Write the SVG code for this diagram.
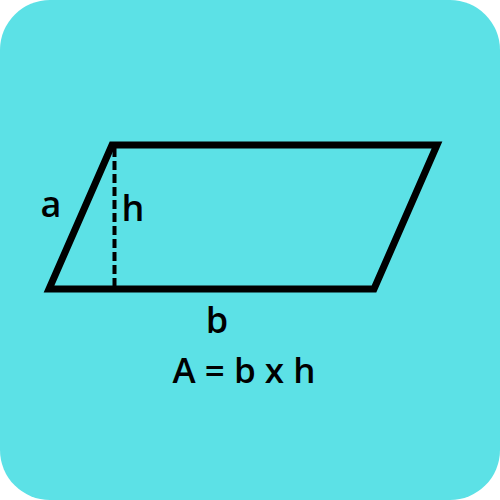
<svg xmlns="http://www.w3.org/2000/svg" width="500" height="500" viewBox="0 0 500 500">
<style>
.lbl{font-family:"Open Sans","Liberation Sans",sans-serif;font-weight:600;fill:#000;}
</style>
<rect x="0" y="0" width="500" height="500" rx="50" ry="50" fill="#5CE1E6"/>
<g id="shape">
<polygon points="112,145 437,145 374,289 49,289" fill="none" stroke="#000" stroke-width="7" stroke-linejoin="miter"/>
</g>
<g id="connectors">
<line x1="114.5" y1="148" x2="114.5" y2="287" stroke="#000" stroke-width="4" stroke-dasharray="9,4"/>
</g>
<g id="labels">
<text class="lbl" x="51" y="217" font-size="36" text-anchor="middle">a</text>
<text class="lbl" x="133" y="221" font-size="36" text-anchor="middle">h</text>
<text class="lbl" x="217" y="333" font-size="36" text-anchor="middle">b</text>
<text class="lbl" x="244" y="383" font-size="35" text-anchor="middle">A = b x h</text>
</g>
</svg>
